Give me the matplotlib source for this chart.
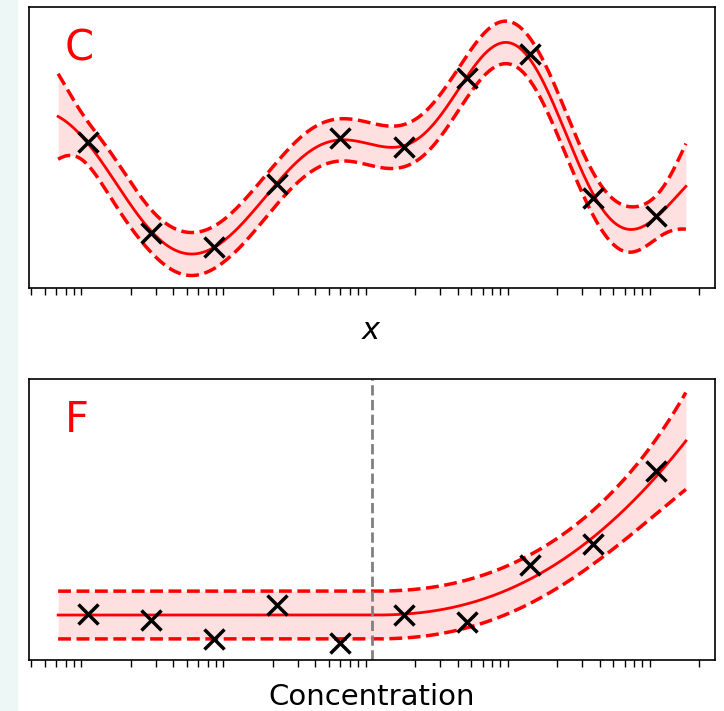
import numpy as np
import matplotlib
matplotlib.use("Agg")
import matplotlib.pyplot as plt
from matplotlib.patches import Rectangle

# ---- data -------------------------------------------------------------
# concentrations (M), evenly spaced on a log axis
conc = np.array([1.00e-8, 2.78e-8, 7.74e-8, 2.15e-7, 5.99e-7,
                 1.67e-6, 4.64e-6, 1.29e-5, 3.59e-5, 1.00e-4])

# panel C: smooth non-monotonic response
resp_c = np.array([5.20, 1.96, 1.46, 3.70, 5.34, 5.02, 7.47, 8.33, 3.20, 2.56])

# panel F: flat baseline, then rising above a threshold
resp_f = np.array([1.64, 1.42, 0.75, 1.96, 0.60, 1.60, 1.35, 3.38, 4.13, 6.73])

# threshold-model parameters for panel F
thresh_f = 1.0e-6
base_f = 1.60
gain_f = 1.00
power_f = 2.3
halfwidth_f = 0.85
spread_f = 0.0075
spread_pow_f = 6.0

# GP hyper-parameters for panel C (in log10 concentration)
ell_c = 0.52
sig_f_c = 2.5
sig_n_c = 0.28

ref_log = -8.0


def gp_predict(t, y, tq, ell, sf, sn):
    m = y.mean()
    k = lambda a, b: sf**2 * np.exp(-(a[:, None] - b[None, :])**2 / (2 * ell**2))
    K = k(t, t) + sn**2 * np.eye(len(t))
    Ks = k(tq, t)
    mu = m + Ks @ np.linalg.solve(K, y - m)
    v = np.linalg.solve(K, Ks.T)
    var = sf**2 - np.sum(Ks * v.T, axis=1) + sn**2
    return mu, np.sqrt(np.maximum(var, 0))


t = np.log10(conc) - ref_log
tq = np.linspace(t.min() - 0.21, t.max() + 0.21, 400)
xq = 10 ** (tq + ref_log)

mu_c, sd_c = gp_predict(t, resp_c, tq, ell_c, sig_f_c, sig_n_c)
lo_c, hi_c = mu_c - 1.96 * sd_c, mu_c + 1.96 * sd_c

s = np.clip(tq - (np.log10(thresh_f) - ref_log), 0, None)
mu_f = base_f + gain_f * s ** power_f
hw_f = halfwidth_f + spread_f * s ** spread_pow_f
lo_f, hi_f = mu_f - hw_f, mu_f + hw_f

# ---- figure -----------------------------------------------------------
fig = plt.figure(figsize=(7.24, 7.11), dpi=100)
fig.patches.append(Rectangle((0, 0), 17 / 724, 1, transform=fig.transFigure,
                             color="#edf7f5", zorder=0))

ax1 = fig.add_axes([29 / 724, 1 - 288 / 711, 686 / 724, 281 / 711])
ax2 = fig.add_axes([29 / 724, 1 - 660 / 711, 686 / 724, 281 / 711])

xlim = (10 ** (ref_log - 0.415), 10 ** (ref_log + 4.415))


def draw(ax, mu, lo, hi, y, letter):
    ax.fill_between(xq, lo, hi, color="red", alpha=0.12, lw=0)
    ax.plot(xq, mu, color="red", lw=2)
    ax.plot(xq, lo, color="red", lw=2.5, ls="--")
    ax.plot(xq, hi, color="red", lw=2.5, ls="--")
    ax.plot(conc, y, "x", color="black", ms=14, mew=2.5)
    ax.set_xscale("log")
    ax.set_xlim(*xlim)
    ax.set_ylim(0, 10)
    ax.set_xticks([])
    ax.set_yticks([])
    ax.tick_params(which="minor", length=5, width=1)
    ax.text(0.052, 0.81, letter, transform=ax.transAxes, color="red",
            fontsize=30, ha="left", va="baseline")
    for sp in ax.spines.values():
        sp.set_linewidth(1.2)


draw(ax1, mu_c, lo_c, hi_c, resp_c, "C")
draw(ax2, mu_f, lo_f, hi_f, resp_f, "F")
ax2.axvline(thresh_f, color="gray", ls="--", lw=2)

ax1.set_xlabel("$x$", fontsize=22, labelpad=12)
ax2.set_xlabel("Concentration", fontsize=21, labelpad=8.5)

fig.savefig("out.png", dpi=100)
